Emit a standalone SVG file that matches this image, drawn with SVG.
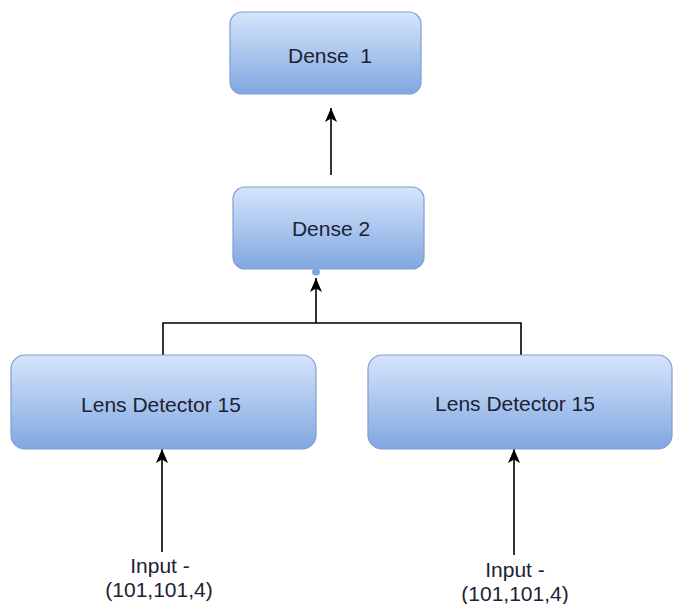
<svg xmlns="http://www.w3.org/2000/svg" width="673" height="604" viewBox="0 0 673 604">
<defs>
<linearGradient id="g" x1="0" y1="0" x2="0" y2="1">
<stop offset="0" stop-color="#d6e5fb"/>
<stop offset="1" stop-color="#80a7e1"/>
</linearGradient>
<marker id="ah" markerUnits="userSpaceOnUse" markerWidth="16" markerHeight="14" refX="14" refY="7" orient="auto" viewBox="0 0 16 14">
<path d="M0,1 L14,7 L0,13 L3.5,7 Z" fill="#000"/>
</marker>
</defs>
<style>
.box{fill:url(#g);stroke:#7d9fd2;stroke-width:1.2}
.t{font-family:"Liberation Sans",Arial,sans-serif;font-size:21px;fill:#1c2233;text-anchor:middle;white-space:pre}
.ln{fill:none;stroke:#000;stroke-width:1.6}
</style>
<rect width="673" height="604" fill="#fff"/>
<g id="connectors">
<line class="ln" x1="331" y1="175" x2="331" y2="108" marker-end="url(#ah)"/>
<polyline class="ln" points="163,355 163,323 521,323 521,355"/>
<line class="ln" x1="316" y1="323" x2="316" y2="278" marker-end="url(#ah)"/>
<line class="ln" x1="162" y1="552" x2="162" y2="449" marker-end="url(#ah)"/>
<line class="ln" x1="514" y1="555" x2="514" y2="449" marker-end="url(#ah)"/>
</g>
<g id="dense1">
<rect class="box" x="230" y="12" width="191" height="82" rx="12"/>
<text class="t" x="330" y="63" xml:space="preserve">Dense  1</text>
</g>
<g id="dense2">
<rect class="box" x="233" y="187" width="191" height="82" rx="12"/>
<text class="t" x="331" y="236">Dense 2</text>
<ellipse cx="316" cy="272" rx="4" ry="3.5" fill="#7ea6e0"/>
</g>
<g id="lens-left">
<rect class="box" x="11" y="355" width="305" height="94" rx="14"/>
<text class="t" x="161" y="412">Lens Detector 15</text>
</g>
<g id="lens-right">
<rect class="box" x="368" y="355" width="304" height="94" rx="14"/>
<text class="t" x="515" y="411">Lens Detector 15</text>
</g>
<g id="input-left">
<text class="t" x="160" y="573">Input -</text>
<text class="t" x="159" y="597">(101,101,4)</text>
</g>
<g id="input-right">
<text class="t" x="515" y="577">Input -</text>
<text class="t" x="515" y="601">(101,101,4)</text>
</g>
</svg>
